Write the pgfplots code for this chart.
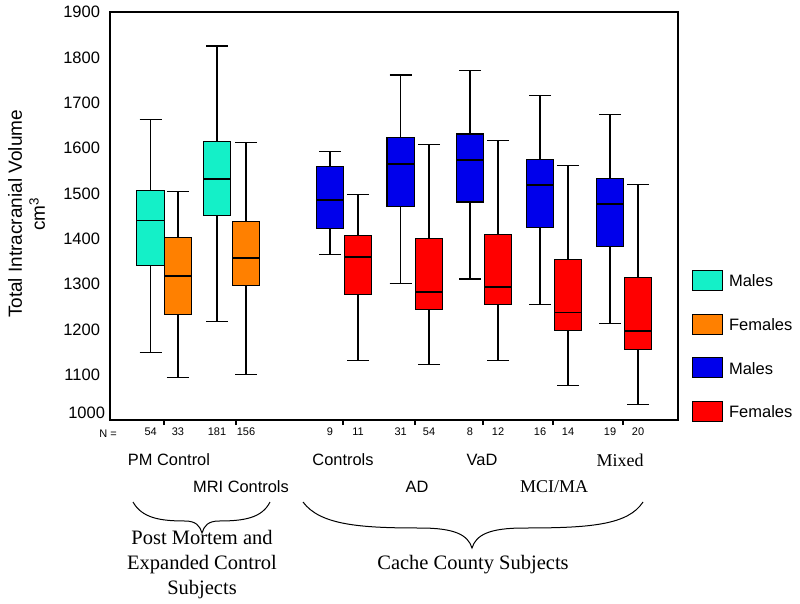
\documentclass[border=0pt]{standalone}
\usepackage{fontspec}
\setmainfont{Liberation Sans}
\newfontfamily\seriffont{Liberation Serif}
\usepackage{pgfplots}
\pgfplotsset{compat=1.18}
\usepgfplotslibrary{statistics}
\definecolor{cmale}{RGB}{20,240,200}
\definecolor{cfem}{RGB}{255,128,0}
\definecolor{bmale}{RGB}{0,0,235}
\definecolor{rfem}{RGB}{255,0,0}
\pgfplotsset{mylegend/.style={legend image code/.code={\draw[#1] (0pt,-9pt) rectangle (30pt,11pt);}}}
\begin{document}
\begin{tikzpicture}
\begin{axis}[
  scale only axis, width=568pt, height=408pt,
  xmin=110, xmax=678, ymin=1000, ymax=1900,
  clip=false,
  boxplot/draw direction=y,
  boxplot/every median/.style={line width=1.6pt},
  axis line style={line width=1.5pt},
  /pgf/number format/1000 sep={},
  /pgf/number format/assume math mode=true,
  tick align=outside,
  xtick pos=left, ytick pos=left,
  major tick length=5pt,
  tick style={line width=1.2pt, black},
  ytick={1100,1200,1300,1400,1500,1600,1700,1800,1900},
  ytick style={draw=none},
  yticklabel style={font=\fontsize{16.5}{18}\selectfont, xshift=-1.5pt},
  extra y ticks={1000},
  extra y tick style={major tick length=0pt, yticklabel style={yshift=7pt}},
  xtick={164,236,343,415,483,553,623},
  xticklabels={},
  extra x ticks={150.7,178,217,246,330,358,400.7,429,470,498,540,568,610,638},
  extra x tick labels={54,33,181,156,9,11,31,54,8,12,16,14,19,20},
  extra x tick style={major tick length=0pt, xticklabel style={font=\fontsize{11}{12}\selectfont, yshift=-4pt}},
  ylabel={Total Intracranial Volume\\cm\textsuperscript{3}},
  ylabel style={align=center, font=\fontsize{19}{23}\selectfont, at={(axis description cs:-0.147,0.505)}, anchor=center},
  legend style={at={(axis description cs:1.0246,0.3676)}, anchor=north west, draw=none, fill=none,
    inner sep=0pt, outer sep=0pt, row sep=22.5pt, font=\fontsize{16.5}{18}\selectfont,
    nodes={inner sep=0pt},
    /tikz/every odd column/.append style={column sep=6pt}},
  legend cell align=left,
]
% Post mortem controls
\addplot[forget plot, fill=cmale, draw=black, line width=1.1pt, boxplot prepared={draw position=150.7, lower whisker=1149, lower quartile=1340, median=1440, upper quartile=1506, upper whisker=1663, box extend=27.5}] coordinates {};
\addplot[forget plot, fill=cfem, draw=black, line width=1.1pt, boxplot prepared={draw position=178, lower whisker=1094, lower quartile=1232, median=1318, upper quartile=1402, upper whisker=1505, box extend=27.5}] coordinates {};
% MRI controls
\addplot[forget plot, fill=cmale, draw=black, line width=1.1pt, boxplot prepared={draw position=217, lower whisker=1217, lower quartile=1452, median=1531, upper quartile=1615, upper whisker=1825, box extend=27.5}] coordinates {};
\addplot[forget plot, fill=cfem, draw=black, line width=1.1pt, boxplot prepared={draw position=246, lower whisker=1101, lower quartile=1296, median=1357, upper quartile=1437, upper whisker=1612, box extend=27.5}] coordinates {};
% Controls
\addplot[forget plot, fill=bmale, draw=black, line width=1.1pt, boxplot prepared={draw position=330, lower whisker=1365, lower quartile=1422, median=1485, upper quartile=1559, upper whisker=1592, box extend=27.5}] coordinates {};
\addplot[forget plot, fill=rfem, draw=black, line width=1.1pt, boxplot prepared={draw position=358, lower whisker=1132, lower quartile=1277, median=1359, upper quartile=1407, upper whisker=1498, box extend=27.5}] coordinates {};
% AD
\addplot[forget plot, fill=bmale, draw=black, line width=1.1pt, boxplot prepared={draw position=400.7, lower whisker=1301, lower quartile=1470, median=1565, upper quartile=1623, upper whisker=1761, box extend=27.5}] coordinates {};
\addplot[forget plot, fill=rfem, draw=black, line width=1.1pt, boxplot prepared={draw position=429, lower whisker=1123, lower quartile=1244, median=1283, upper quartile=1401, upper whisker=1607, box extend=27.5}] coordinates {};
% VaD
\addplot[forget plot, fill=bmale, draw=black, line width=1.1pt, boxplot prepared={draw position=470, lower whisker=1311, lower quartile=1481, median=1573, upper quartile=1631, upper whisker=1771, box extend=27.5}] coordinates {};
\addplot[forget plot, fill=rfem, draw=black, line width=1.1pt, boxplot prepared={draw position=498, lower whisker=1132, lower quartile=1254, median=1294, upper quartile=1410, upper whisker=1616, box extend=27.5}] coordinates {};
% MCI/MA
\addplot[forget plot, fill=bmale, draw=black, line width=1.1pt, boxplot prepared={draw position=540, lower whisker=1255, lower quartile=1424, median=1518, upper quartile=1575, upper whisker=1715, box extend=27.5}] coordinates {};
\addplot[forget plot, fill=rfem, draw=black, line width=1.1pt, boxplot prepared={draw position=568, lower whisker=1077, lower quartile=1197, median=1237, upper quartile=1355, upper whisker=1561, box extend=27.5}] coordinates {};
% Mixed
\addplot[forget plot, fill=bmale, draw=black, line width=1.1pt, boxplot prepared={draw position=610, lower whisker=1213, lower quartile=1382, median=1476, upper quartile=1533, upper whisker=1673, box extend=27.5}] coordinates {};
\addplot[forget plot, fill=rfem, draw=black, line width=1.1pt, boxplot prepared={draw position=638, lower whisker=1035, lower quartile=1156, median=1196, upper quartile=1314, upper whisker=1520, box extend=27.5}] coordinates {};
% legend
\addlegendimage{mylegend, fill=cmale, draw=black, line width=1.1pt}
\addlegendentry{Males}
\addlegendimage{mylegend, fill=cfem, draw=black, line width=1.1pt}
\addlegendentry{Females}
\addlegendimage{mylegend, fill=bmale, draw=black, line width=1.1pt}
\addlegendentry{Males}
\addlegendimage{mylegend, fill=rfem, draw=black, line width=1.1pt}
\addlegendentry{Females}
\end{axis}
\begin{scope}[x=1pt,y=-1pt,shift={(-110pt,420pt)}]
\path[use as bounding box] (0,0) rectangle (800,603);
\node[font=\fontsize{11}{12}\selectfont] at (108,434) {N =};
\begin{scope}[every node/.style={font=\fontsize{16.4}{18}\selectfont}]
\node at (169,460) {PM Control};
\node at (241,487) {MRI Controls};
\node at (343,460) {Controls};
\node at (482,460) {VaD};
\node at (417,487) {AD};
\end{scope}
\node[font=\seriffont\fontsize{18}{20}\selectfont] at (620,460) {Mixed};
\node[font=\seriffont\fontsize{18}{20}\selectfont] at (554,487) {MCI/MA};
\node[align=center, font=\seriffont\fontsize{20.5}{25}\selectfont] at (202,565) {Post Mortem and\\Expanded Control\\Subjects};
\node[font=\seriffont\fontsize{20.5}{25}\selectfont] at (473,565) {Cache County Subjects};
\draw[line width=1pt] (133,502) .. controls (142,518) and (160,521) .. (185,521)
  .. controls (196,521) and (200,526) .. (202,533)
  .. controls (204,526) and (208,521) .. (219,521)
  .. controls (244,521) and (262,518) .. (270,502);
\draw[line width=1pt] (303,502) .. controls (320,525) and (360,528) .. (420,528)
  .. controls (455,528) and (468,535) .. (472,548)
  .. controls (476,535) and (489,528) .. (524,528)
  .. controls (590,528) and (628,525) .. (643,502);
\end{scope}
\end{tikzpicture}
\end{document}
